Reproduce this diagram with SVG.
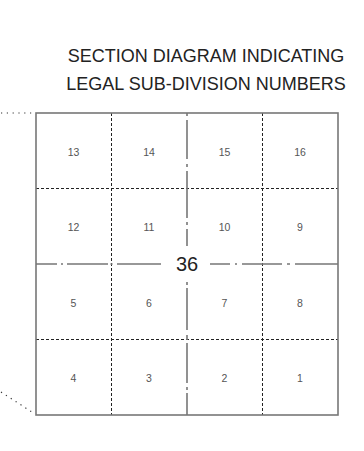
<svg xmlns="http://www.w3.org/2000/svg" width="364" height="451" viewBox="0 0 364 451">
<style>
.title{font-family:"Liberation Sans",Arial,sans-serif;font-size:18px;fill:#222;text-anchor:middle}
.num{font-family:"Liberation Sans",Arial,sans-serif;font-size:10.5px;fill:#555;text-anchor:middle;dominant-baseline:central}
.big{font-family:"Liberation Sans",Arial,sans-serif;font-size:20px;fill:#222;text-anchor:middle;dominant-baseline:central}
.border{fill:none;stroke:#777;stroke-width:1.6}
.dash{fill:none;stroke:#222;stroke-width:1;stroke-dasharray:3 2}
.center{fill:none;stroke:#777;stroke-width:1.6}
.dots{fill:none;stroke:#333;stroke-width:1.2;stroke-dasharray:1.2 4.6}
</style>
<rect width="364" height="451" fill="#fff"/>
<g id="title">
<text class="title" x="206" y="62">SECTION DIAGRAM INDICATING</text>
<text class="title" x="206" y="90">LEGAL SUB-DIVISION NUMBERS</text>
</g>
<g id="connectors">
<path class="dots" d="M1 113 H35"/>
<path class="dots" d="M1 392 L35 414"/>
<path class="dash" d="M111.5 113 V415 M262.5 113 V415"/>
<path class="dash" d="M36 188.5 H338 M36 339.5 H338"/>
<path class="center" d="M36 264 H57 M61 264 H63 M67 264 H108 M110.5 264 H112.5 M117 264 H161"/>
<path class="center" d="M210 264 H230 M235 264 H237 M242 264 H282 M287 264 H290 M295 264 H338"/>
<path class="center" d="M187 113 V116 M187 120 V159 M187 164 V167 M187 171 V218 M187 222 V225 M187 229 V246"/>
<path class="center" d="M187 282 V285 M187 288 V330 M187 335 V340 M187 343 V383 M187 387 V390 M187 393 V415"/>
</g>
<g id="section">
<rect class="border" x="36" y="113" width="302" height="302"/>
<text class="big" x="187" y="264">36</text>
</g>
<g id="subdivisions">
<text class="num" x="73.5" y="151.5">13</text>
<text class="num" x="149" y="151.5">14</text>
<text class="num" x="224.5" y="151.5">15</text>
<text class="num" x="300" y="151.5">16</text>
<text class="num" x="73.5" y="227">12</text>
<text class="num" x="149" y="227">11</text>
<text class="num" x="224.5" y="227">10</text>
<text class="num" x="300" y="227">9</text>
<text class="num" x="73.5" y="302.5">5</text>
<text class="num" x="149" y="302.5">6</text>
<text class="num" x="224.5" y="302.5">7</text>
<text class="num" x="300" y="302.5">8</text>
<text class="num" x="73.5" y="378">4</text>
<text class="num" x="149" y="378">3</text>
<text class="num" x="224.5" y="378">2</text>
<text class="num" x="300" y="378">1</text>
</g>
</svg>
